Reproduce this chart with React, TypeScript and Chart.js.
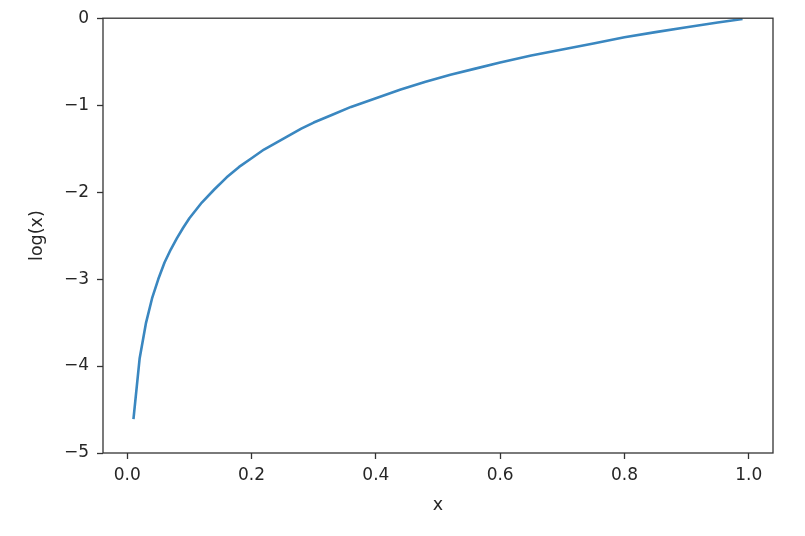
import React, { useEffect, useRef } from "react";
import { Chart, registerables } from "chart.js";

Chart.register(...registerables);

const xValues = [
  0.01, 0.02, 0.03, 0.04, 0.05, 0.06, 0.07, 0.08, 0.09, 0.1,
  0.12, 0.14, 0.16, 0.18, 0.2, 0.22, 0.24, 0.26, 0.28, 0.3,
  0.33, 0.36, 0.4, 0.44, 0.48, 0.52, 0.56, 0.6, 0.65, 0.7,
  0.75, 0.8, 0.85, 0.9, 0.95, 0.99,
];
const yValues = [
  -4.61, -3.91, -3.51, -3.22, -3.0, -2.81, -2.66, -2.53, -2.41, -2.3,
  -2.12, -1.97, -1.83, -1.71, -1.61, -1.51, -1.43, -1.35, -1.27, -1.2,
  -1.11, -1.02, -0.92, -0.82, -0.73, -0.65, -0.58, -0.51, -0.43, -0.36,
  -0.29, -0.22, -0.16, -0.105, -0.05, -0.01,
];
const xTicks = [0.0, 0.2, 0.4, 0.6, 0.8, 1.0];
const yTicks = [-5, -4, -3, -2, -1, 0];
const xLabel = "x";
const yLabel = "log(x)";

const FONT = "'DejaVu Sans', sans-serif";
const AXIS_COLOR = "#333333";
const TEXT_COLOR = "#262626";

const fmt = (v: number, digits: number) => {
  const s = Math.abs(v).toFixed(digits);
  return v < 0 ? "\u2212" + s : s;
};

const framePlugin = {
  id: "frame",
  afterDraw(chart: any) {
    const { ctx, chartArea } = chart;
    ctx.save();
    ctx.strokeStyle = AXIS_COLOR;
    ctx.lineWidth = 1.3;
    ctx.strokeRect(chartArea.left, chartArea.top, chartArea.right - chartArea.left, chartArea.bottom - chartArea.top);
    ctx.restore();
  },
};

export default function App() {
  const ref = useRef<HTMLCanvasElement | null>(null);

  useEffect(() => {
    if (!ref.current) return;
    const chart = new Chart(ref.current, {
      type: "line",
      data: {
        datasets: [
          {
            data: xValues.map((x, i) => ({ x, y: yValues[i] })),
            borderColor: "#3a87c0",
            borderWidth: 2.6,
            pointRadius: 0,
            tension: 0,
            fill: false,
            borderJoinStyle: "round",
          },
        ],
      },
      options: {
        animation: false,
        responsive: false,
        devicePixelRatio: 1,
        layout: { padding: { top: 17.5, right: 32, left: 0, bottom: 0 } },
        plugins: { legend: { display: false }, tooltip: { enabled: false } },
        scales: {
          x: {
            type: "linear",
            min: -0.039,
            max: 1.039,
            afterBuildTicks: (scale: any) => {
              scale.ticks = xTicks.map((v) => ({ value: v }));
            },
            afterFit: (scale: any) => {
              scale.height = 83;
            },
            ticks: {
              callback: (v: any) => fmt(Number(v), 1),
              font: { family: FONT, size: 17 },
              color: TEXT_COLOR,
              padding: 6,
              maxRotation: 0,
              autoSkip: false,
            },
            grid: {
              display: true,
              drawOnChartArea: false,
              drawTicks: true,
              tickLength: 6,
              color: AXIS_COLOR,
              tickWidth: 1.3,
            },
            border: { display: false },
            title: {
              display: true,
              text: xLabel,
              font: { family: FONT, size: 17.5 },
              color: TEXT_COLOR,
              padding: { top: 0, bottom: 20 },
            },
          },
          y: {
            type: "linear",
            min: -5,
            max: 0,
            afterBuildTicks: (scale: any) => {
              scale.ticks = yTicks.map((v) => ({ value: v }));
            },
            afterFit: (scale: any) => {
              scale.width = 103;
            },
            ticks: {
              callback: (v: any) => fmt(Number(v), 0),
              font: { family: FONT, size: 17 },
              color: TEXT_COLOR,
              padding: 8,
              autoSkip: false,
            },
            grid: {
              display: true,
              drawOnChartArea: false,
              drawTicks: true,
              tickLength: 6,
              color: AXIS_COLOR,
              tickWidth: 1.3,
            },
            border: { display: false },
            title: {
              display: true,
              text: yLabel,
              font: { family: FONT, size: 17.5 },
              color: TEXT_COLOR,
              padding: { top: 27, bottom: 0 },
            },
          },
        },
      },
      plugins: [framePlugin],
    });
    return () => chart.destroy();
  }, []);

  return (
    <div style={{ position: "fixed", left: 0, top: 0, width: 805, height: 536, background: "#fff" }}>
      <canvas ref={ref} width={805} height={536} style={{ display: "block", width: 805, height: 536 }} />
    </div>
  );
}
